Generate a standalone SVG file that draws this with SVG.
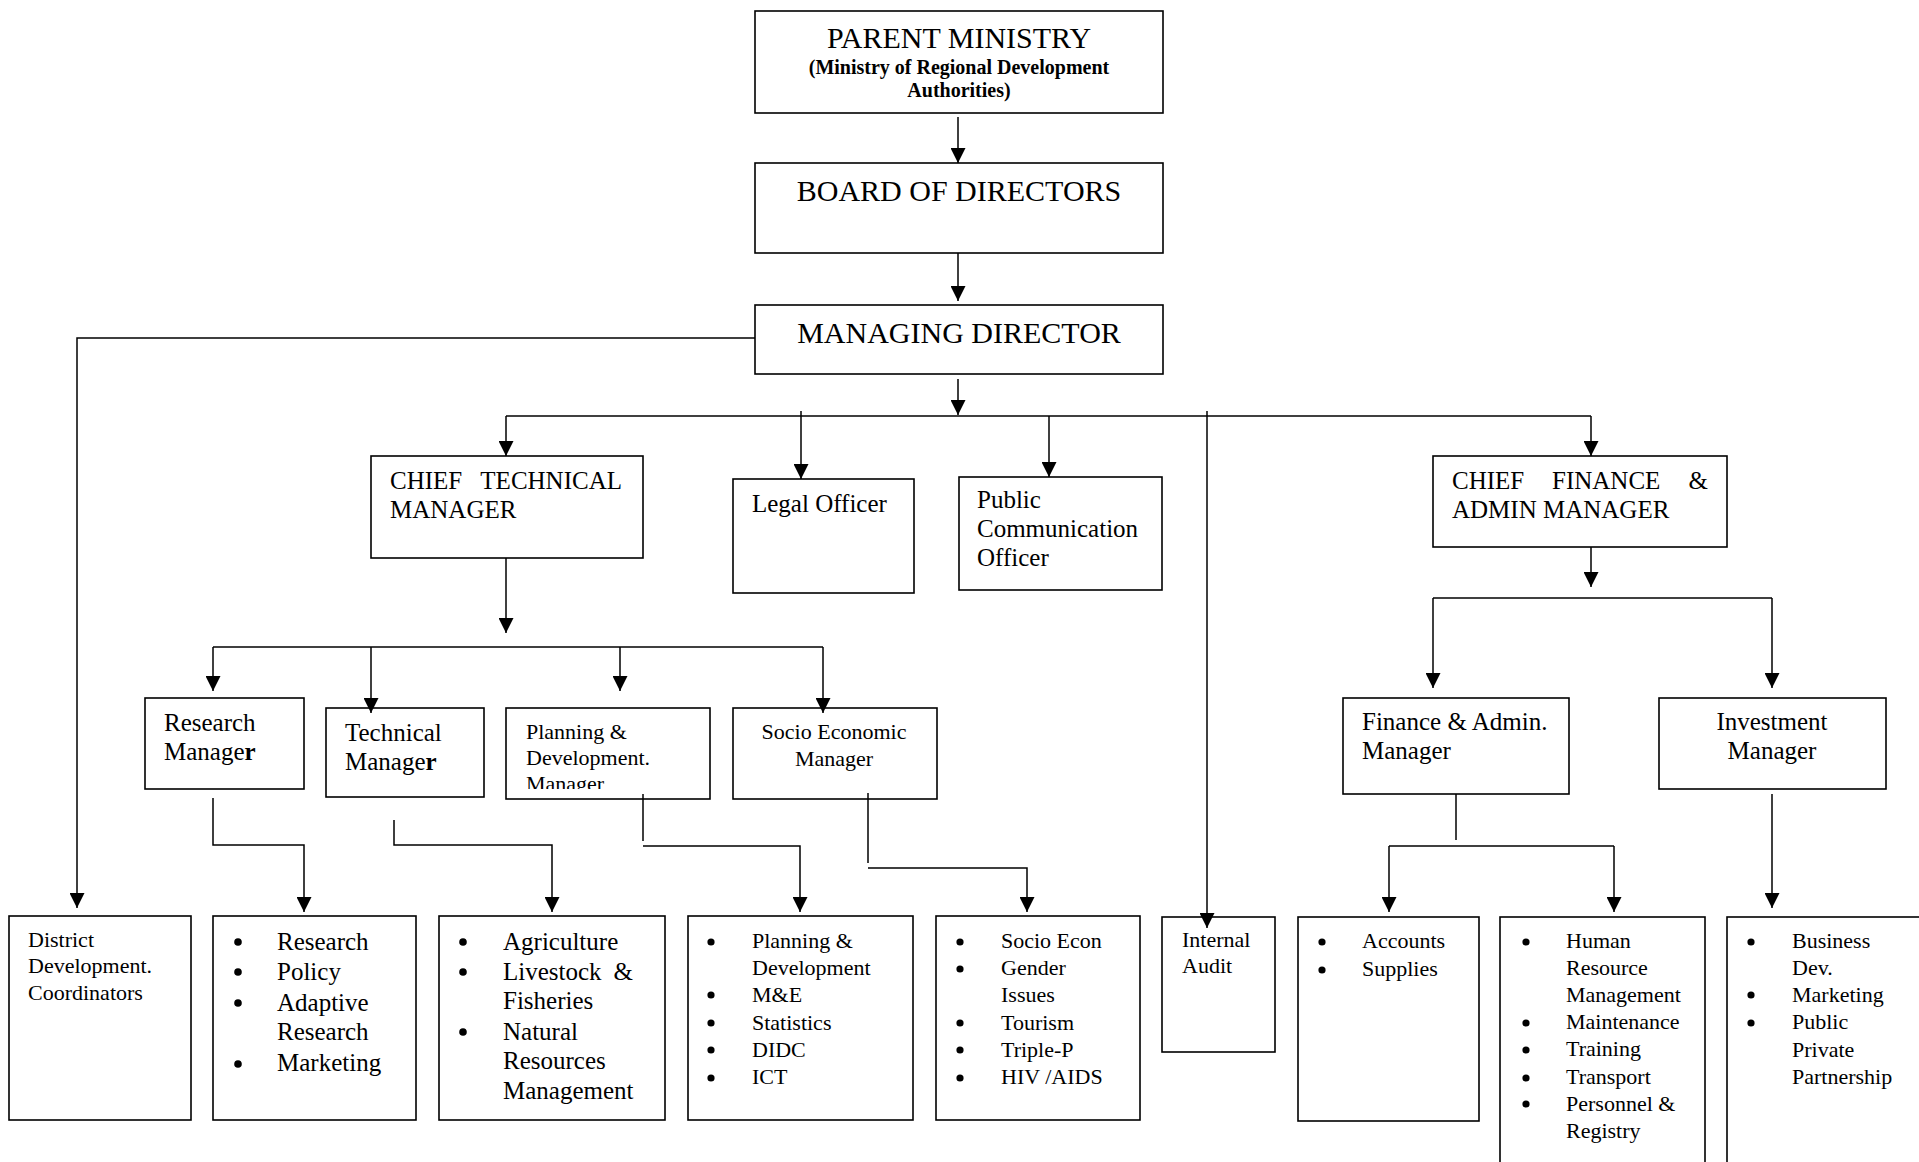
<svg xmlns="http://www.w3.org/2000/svg" width="1919" height="1162" viewBox="0 0 1919 1162">
<style>
.box{fill:#fff;stroke:#000;stroke-width:1.6}
.ln{fill:none;stroke:#000;stroke-width:1.5}
.a{marker-end:url(#ah)}
text{font-family:"Liberation Serif","Times New Roman",serif;fill:#000}
.t30{font-size:30px}
.t25{font-size:25px}
.t22{font-size:22px}
.b20{font-size:20px;font-weight:bold}
.mid{text-anchor:middle}
.end{text-anchor:end}
.dot{fill:#000}
</style>
<defs>
<marker id="ah" markerUnits="userSpaceOnUse" markerWidth="15" markerHeight="15" refX="15" refY="7.5" orient="auto">
<path d="M0,0 L15,7.5 L0,15 z" fill="#000"/>
</marker>
<clipPath id="clipPD"><rect x="507" y="709" width="202" height="80"/></clipPath>
</defs>
<rect width="1919" height="1162" fill="#fff"/>

<g id="parent-ministry">
<rect class="box" x="755" y="11" width="408" height="102"/>
<text class="t30 mid" x="959" y="48">PARENT MINISTRY</text>
<text class="b20 mid" x="959" y="74">(Ministry of Regional Development</text>
<text class="b20 mid" x="959" y="97">Authorities)</text>
</g>
<g id="board">
<rect class="box" x="755" y="163" width="408" height="90"/>
<text class="t30 mid" x="959" y="201">BOARD OF DIRECTORS</text>
</g>
<g id="managing-director">
<rect class="box" x="755" y="305" width="408" height="69"/>
<text class="t30 mid" x="959" y="343">MANAGING DIRECTOR</text>
</g>
<g id="chief-technical">
<rect class="box" x="371" y="456" width="272" height="102"/>
<text class="t25" x="390" y="489">CHIEF</text>
<text class="t25 end" x="622" y="489">TECHNICAL</text>
<text class="t25" x="390" y="518">MANAGER</text>
</g>
<g id="legal-officer">
<rect class="box" x="733" y="479" width="181" height="114"/>
<text class="t25" x="752" y="512">Legal Officer</text>
</g>
<g id="public-communication">
<rect class="box" x="959" y="477" width="203" height="113"/>
<text class="t25" x="977" y="508">Public</text>
<text class="t25" x="977" y="537">Communication</text>
<text class="t25" x="977" y="566">Officer</text>
</g>
<g id="chief-finance">
<rect class="box" x="1433" y="456" width="294" height="91"/>
<text class="t25" x="1452" y="489">CHIEF</text>
<text class="t25" x="1552" y="489">FINANCE</text>
<text class="t25 end" x="1708" y="489">&amp;</text>
<text class="t25" x="1452" y="518">ADMIN MANAGER</text>
</g>
<g id="research-manager">
<rect class="box" x="145" y="698" width="159" height="91"/>
<text class="t25" x="164" y="731">Research</text>
<text class="t25" x="164" y="760">Manage<tspan font-weight="bold">r</tspan></text>
</g>
<g id="technical-manager">
<rect class="box" x="326" y="708" width="158" height="89"/>
<text class="t25" x="345" y="741">Technical</text>
<text class="t25" x="345" y="770">Manage<tspan font-weight="bold">r</tspan></text>
</g>
<g id="planning-manager">
<rect class="box" x="506" y="708" width="204" height="91"/>
<g clip-path="url(#clipPD)">
<text class="t22" x="526" y="739">Planning &amp;</text>
<text class="t22" x="526" y="765">Development.</text>
<text class="t22" x="526" y="791">Manager</text>
</g>
</g>
<g id="socio-manager">
<rect class="box" x="733" y="708" width="204" height="91"/>
<text class="t22 mid" x="834" y="739">Socio Economic</text>
<text class="t22 mid" x="834" y="766">Manager</text>
</g>
<g id="finance-admin-manager">
<rect class="box" x="1343" y="698" width="226" height="96"/>
<text class="t25" x="1362" y="730">Finance &amp; Admin.</text>
<text class="t25" x="1362" y="759">Manager</text>
</g>
<g id="investment-manager">
<rect class="box" x="1659" y="698" width="227" height="91"/>
<text class="t25 mid" x="1772" y="730">Investment</text>
<text class="t25 mid" x="1772" y="759">Manager</text>
</g>
<g id="district">
<rect class="box" x="9" y="916" width="182" height="204"/>
<text class="t22" x="28" y="947">District</text>
<text class="t22" x="28" y="973">Development.</text>
<text class="t22" x="28" y="1000">Coordinators</text>
</g>
<g id="research-units">
<rect class="box" x="213" y="916" width="203" height="204"/>
<circle class="dot" cx="238" cy="942" r="3.8"/>
<circle class="dot" cx="238" cy="972" r="3.8"/>
<circle class="dot" cx="238" cy="1003" r="3.8"/>
<circle class="dot" cx="238" cy="1064" r="3.8"/>
<text class="t25" x="277" y="950">Research</text>
<text class="t25" x="277" y="980">Policy</text>
<text class="t25" x="277" y="1011">Adaptive</text>
<text class="t25" x="277" y="1040">Research</text>
<text class="t25" x="277" y="1071">Marketing</text>
</g>
<g id="technical-units">
<rect class="box" x="439" y="916" width="226" height="204"/>
<circle class="dot" cx="463" cy="942" r="3.8"/>
<circle class="dot" cx="463" cy="972" r="3.8"/>
<circle class="dot" cx="463" cy="1032" r="3.8"/>
<text class="t25" x="503" y="950">Agriculture</text>
<text class="t25" x="503" y="980">Livestock</text>
<text class="t25 end" x="633" y="980">&amp;</text>
<text class="t25" x="503" y="1009">Fisheries</text>
<text class="t25" x="503" y="1040">Natural</text>
<text class="t25" x="503" y="1069">Resources</text>
<text class="t25" x="503" y="1099">Management</text>
</g>
<g id="planning-units">
<rect class="box" x="688" y="916" width="225" height="204"/>
<circle class="dot" cx="711" cy="942" r="3.6"/>
<circle class="dot" cx="711" cy="995" r="3.6"/>
<circle class="dot" cx="711" cy="1023" r="3.6"/>
<circle class="dot" cx="711" cy="1050" r="3.6"/>
<circle class="dot" cx="711" cy="1078" r="3.6"/>
<text class="t22" x="752" y="948">Planning &amp;</text>
<text class="t22" x="752" y="975">Development</text>
<text class="t22" x="752" y="1002">M&amp;E</text>
<text class="t22" x="752" y="1030">Statistics</text>
<text class="t22" x="752" y="1057">DIDC</text>
<text class="t22" x="752" y="1084">ICT</text>
</g>
<g id="socio-units">
<rect class="box" x="936" y="916" width="204" height="204"/>
<circle class="dot" cx="960" cy="942" r="3.6"/>
<circle class="dot" cx="960" cy="969" r="3.6"/>
<circle class="dot" cx="960" cy="1023" r="3.6"/>
<circle class="dot" cx="960" cy="1050" r="3.6"/>
<circle class="dot" cx="960" cy="1078" r="3.6"/>
<text class="t22" x="1001" y="948">Socio Econ</text>
<text class="t22" x="1001" y="975">Gender</text>
<text class="t22" x="1001" y="1002">Issues</text>
<text class="t22" x="1001" y="1030">Tourism</text>
<text class="t22" x="1001" y="1057">Triple-P</text>
<text class="t22" x="1001" y="1084">HIV /AIDS</text>
</g>
<g id="internal-audit">
<rect class="box" x="1162" y="917" width="113" height="135"/>
<text class="t22" x="1182" y="947">Internal</text>
<text class="t22" x="1182" y="973">Audit</text>
</g>
<g id="accounts-units">
<rect class="box" x="1298" y="917" width="181" height="204"/>
<circle class="dot" cx="1322" cy="942" r="3.6"/>
<circle class="dot" cx="1322" cy="970" r="3.6"/>
<text class="t22" x="1362" y="948">Accounts</text>
<text class="t22" x="1362" y="976">Supplies</text>
</g>
<g id="hr-units">
<rect class="box" x="1500" y="917" width="205" height="262"/>
<circle class="dot" cx="1526" cy="942" r="3.6"/>
<circle class="dot" cx="1526" cy="1023" r="3.6"/>
<circle class="dot" cx="1526" cy="1050" r="3.6"/>
<circle class="dot" cx="1526" cy="1078" r="3.6"/>
<circle class="dot" cx="1526" cy="1104" r="3.6"/>
<text class="t22" x="1566" y="948">Human</text>
<text class="t22" x="1566" y="975">Resource</text>
<text class="t22" x="1566" y="1002">Management</text>
<text class="t22" x="1566" y="1029">Maintenance</text>
<text class="t22" x="1566" y="1056">Training</text>
<text class="t22" x="1566" y="1084">Transport</text>
<text class="t22" x="1566" y="1111">Personnel &amp;</text>
<text class="t22" x="1566" y="1138">Registry</text>
</g>
<g id="investment-units">
<rect class="box" x="1727" y="917" width="220" height="262"/>
<circle class="dot" cx="1751" cy="942" r="3.6"/>
<circle class="dot" cx="1751" cy="995" r="3.6"/>
<circle class="dot" cx="1751" cy="1023" r="3.6"/>
<text class="t22" x="1792" y="948">Business</text>
<text class="t22" x="1792" y="975">Dev.</text>
<text class="t22" x="1792" y="1002">Marketing</text>
<text class="t22" x="1792" y="1029">Public</text>
<text class="t22" x="1792" y="1057">Private</text>
<text class="t22" x="1792" y="1084">Partnership</text>
</g>

<g id="connectors">
<line class="ln a" x1="958" y1="117" x2="958" y2="163"/>
<line class="ln a" x1="958" y1="253" x2="958" y2="301"/>
<polyline class="ln a" points="755,338 77,338 77,908"/>
<line class="ln a" x1="958" y1="379" x2="958" y2="415"/>
<line class="ln" x1="506" y1="416" x2="1591" y2="416"/>
<line class="ln a" x1="506" y1="416" x2="506" y2="456"/>
<line class="ln a" x1="801" y1="411" x2="801" y2="479"/>
<line class="ln a" x1="1049" y1="416" x2="1049" y2="477"/>
<line class="ln a" x1="1207" y1="411" x2="1207" y2="928"/>
<line class="ln a" x1="1591" y1="416" x2="1591" y2="456"/>
<line class="ln a" x1="506" y1="558" x2="506" y2="633"/>
<line class="ln" x1="213" y1="647" x2="823" y2="647"/>
<line class="ln a" x1="213" y1="647" x2="213" y2="691"/>
<line class="ln a" x1="371" y1="647" x2="371" y2="713"/>
<line class="ln a" x1="620" y1="647" x2="620" y2="691"/>
<line class="ln a" x1="823" y1="647" x2="823" y2="713"/>
<polyline class="ln a" points="213,798 213,845 304,845 304,912"/>
<polyline class="ln a" points="394,820 394,845 552,845 552,912"/>
<line class="ln" x1="643" y1="794" x2="643" y2="841"/>
<polyline class="ln a" points="643,846 800,846 800,912"/>
<line class="ln" x1="868" y1="793" x2="868" y2="863"/>
<polyline class="ln a" points="868,868 1027,868 1027,912"/>
<line class="ln a" x1="1591" y1="547" x2="1591" y2="587"/>
<line class="ln" x1="1433" y1="598" x2="1772" y2="598"/>
<line class="ln a" x1="1433" y1="598" x2="1433" y2="688"/>
<line class="ln a" x1="1772" y1="598" x2="1772" y2="688"/>
<line class="ln" x1="1456" y1="794" x2="1456" y2="840"/>
<line class="ln" x1="1389" y1="846" x2="1614" y2="846"/>
<line class="ln a" x1="1389" y1="846" x2="1389" y2="912"/>
<line class="ln a" x1="1614" y1="846" x2="1614" y2="912"/>
<line class="ln a" x1="1772" y1="794" x2="1772" y2="908"/>
</g>
</svg>
